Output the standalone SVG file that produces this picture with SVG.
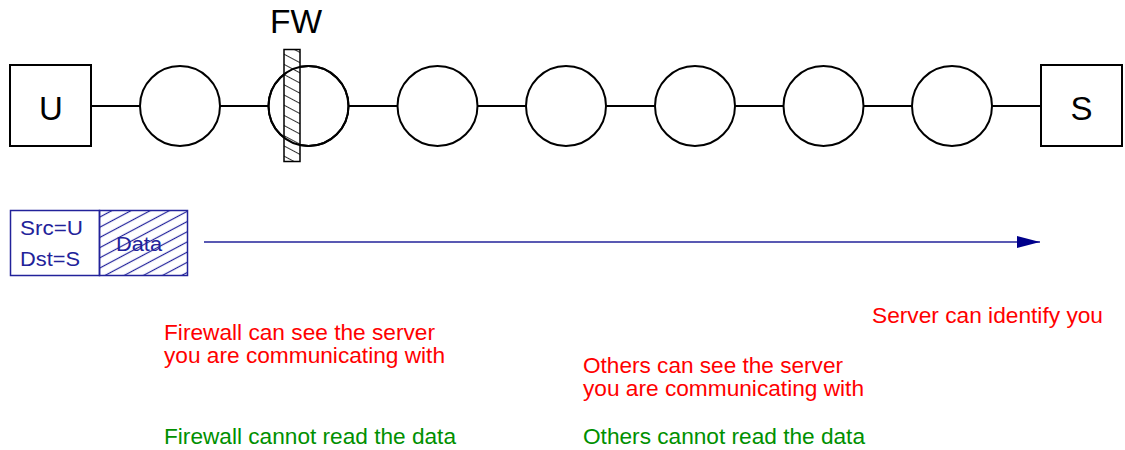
<svg xmlns="http://www.w3.org/2000/svg" width="1125" height="450" viewBox="0 0 1125 450">
<defs>
<style>
.n{fill:#fff;stroke:#000;stroke-width:2}
.o{fill:none;stroke:#000;stroke-width:2}
.l{stroke:#000;stroke-width:2}
.t{font-family:"Liberation Sans",Arial,sans-serif}
.red{fill:#f00;font-size:21.5px}
.grn{fill:#009000;font-size:21.5px}
.blu{fill:#22229a;font-size:20px}
</style>
<pattern id="hatch" patternUnits="userSpaceOnUse" width="9" height="9" patternTransform="rotate(28)">
<line x1="0" y1="4.5" x2="9" y2="4.5" stroke="#333" stroke-width="1"/>
</pattern>
<pattern id="bhatch" patternUnits="userSpaceOnUse" width="9" height="9" patternTransform="rotate(-28)">
<line x1="0" y1="4.5" x2="9" y2="4.5" stroke="#22229a" stroke-width="1.2"/>
</pattern>
<marker id="arr" markerWidth="24" markerHeight="14" refX="23" refY="7" orient="auto" markerUnits="userSpaceOnUse">
<path d="M0,1 L23,7 L0,13 Z" fill="#00008b"/>
</marker>
</defs>
<g id="connectors">
<line class="l" x1="91" y1="106" x2="1041" y2="106"/>
<line x1="204" y1="242" x2="1040" y2="242" stroke="#22229a" stroke-width="1.5" marker-end="url(#arr)"/>
</g>
<g id="U"><rect class="n" x="10" y="65" width="81" height="81"/><text class="t" x="51" y="120" font-size="33" text-anchor="middle">U</text></g>
<g id="r1"><circle class="n" cx="180" cy="106" r="40"/></g>
<g id="r2"><circle class="n" cx="308.5" cy="106" r="40"/></g>
<g id="r3"><circle class="n" cx="437.5" cy="106" r="40"/></g>
<g id="r4"><circle class="n" cx="566" cy="106" r="40"/></g>
<g id="r5"><circle class="n" cx="695" cy="106" r="40"/></g>
<g id="r6"><circle class="n" cx="823.5" cy="106" r="40"/></g>
<g id="r7"><circle class="n" cx="952" cy="106" r="40"/></g>
<g id="S"><rect class="n" x="1041" y="65" width="81" height="81"/><text class="t" x="1081.5" y="120" font-size="33" text-anchor="middle">S</text></g>
<g id="FW">
<rect x="284" y="49.5" width="16" height="112" fill="#fff" stroke="none"/>
<rect x="284" y="49.5" width="16" height="112" fill="url(#hatch)" stroke="#000" stroke-width="1.5"/>
<circle class="o" cx="308.5" cy="106" r="40"/>
<text class="t" x="296" y="33" font-size="33.5" text-anchor="middle">FW</text>
</g>
<g id="packet">
<rect x="10.5" y="210.5" width="89" height="65" fill="#fff" stroke="#22229a" stroke-width="1.5"/>
<rect x="99.5" y="210.5" width="88" height="65" fill="url(#bhatch)" stroke="#22229a" stroke-width="1.5"/>
<text class="t blu" x="20" y="235" textLength="63" lengthAdjust="spacingAndGlyphs">Src=U</text>
<text class="t blu" x="20" y="266" textLength="60" lengthAdjust="spacingAndGlyphs">Dst=S</text>
<text class="t blu" x="116" y="251" textLength="46" lengthAdjust="spacingAndGlyphs">Data</text>
</g>
<g id="notes">
<text class="t red" x="164" y="340" textLength="271" lengthAdjust="spacingAndGlyphs">Firewall can see the server</text>
<text class="t red" x="164" y="363" textLength="281" lengthAdjust="spacingAndGlyphs">you are communicating with</text>
<text class="t red" x="872" y="323" textLength="231" lengthAdjust="spacingAndGlyphs">Server can identify you</text>
<text class="t red" x="583" y="373" textLength="260" lengthAdjust="spacingAndGlyphs">Others can see the server</text>
<text class="t red" x="583" y="396" textLength="281" lengthAdjust="spacingAndGlyphs">you are communicating with</text>
<text class="t grn" x="164" y="444" textLength="292" lengthAdjust="spacingAndGlyphs">Firewall cannot read the data</text>
<text class="t grn" x="583" y="444" textLength="282" lengthAdjust="spacingAndGlyphs">Others cannot read the data</text>
</g>
</svg>
